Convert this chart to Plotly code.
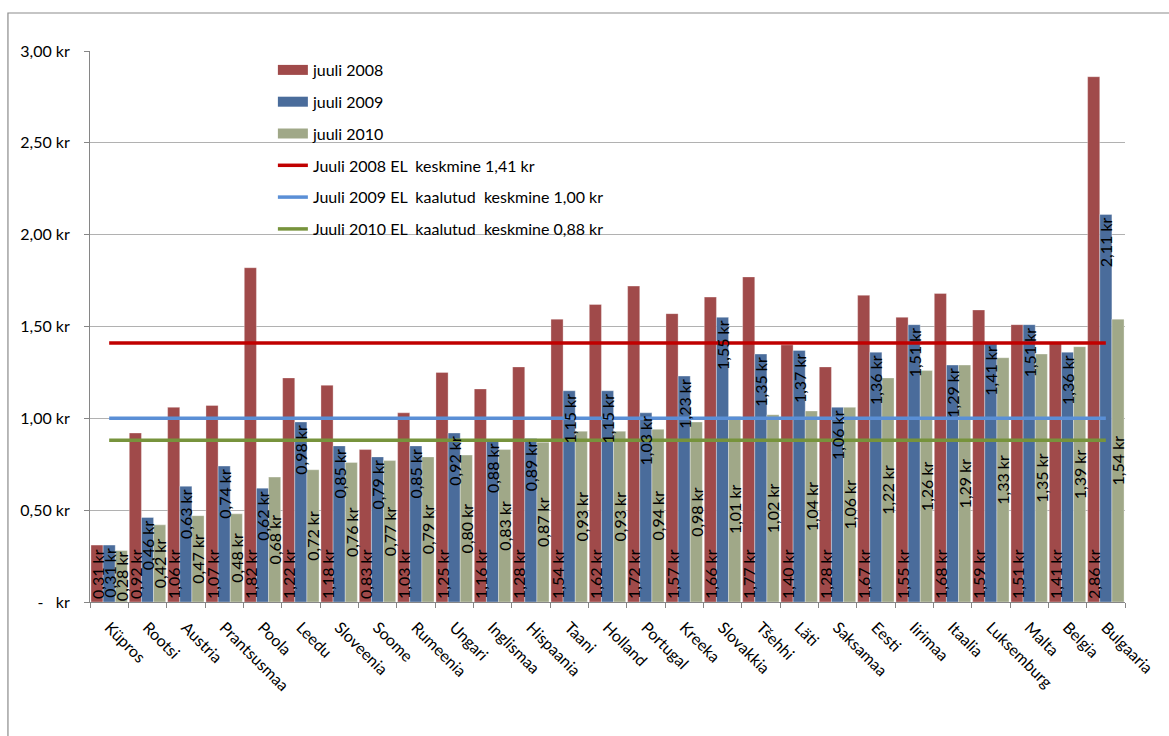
import plotly.graph_objects as go

countries = ["Küpros", "Rootsi", "Austria", "Prantsusmaa", "Poola", "Leedu", "Sloveenia",
             "Soome", "Rumeenia", "Ungari", "Inglismaa", "Hispaania", "Taani", "Holland",
             "Portugal", "Kreeka", "Slovakkia", "Tšehhi", "Läti", "Saksamaa", "Eesti",
             "Iirimaa", "Itaalia", "Luksemburg", "Malta", "Belgia", "Bulgaaria"]

juuli_2008 = [0.31, 0.92, 1.06, 1.07, 1.82, 1.22, 1.18, 0.83, 1.03, 1.25, 1.16, 1.28, 1.54, 1.62,
              1.72, 1.57, 1.66, 1.77, 1.40, 1.28, 1.67, 1.55, 1.68, 1.59, 1.51, 1.41, 2.86]
juuli_2009 = [0.31, 0.46, 0.63, 0.74, 0.62, 0.98, 0.85, 0.79, 0.85, 0.92, 0.88, 0.89, 1.15, 1.15,
              1.03, 1.23, 1.55, 1.35, 1.37, 1.06, 1.36, 1.51, 1.29, 1.41, 1.51, 1.36, 2.11]
juuli_2010 = [0.28, 0.42, 0.47, 0.48, 0.68, 0.72, 0.76, 0.77, 0.79, 0.80, 0.83, 0.87, 0.93, 0.93,
              0.94, 0.98, 1.01, 1.02, 1.04, 1.06, 1.22, 1.26, 1.29, 1.33, 1.35, 1.39, 1.54]

avg_2008 = 1.41
avg_2009 = 1.00
avg_2010 = 0.88

bar_names = ["juuli 2008", "juuli 2009", "juuli 2010"]
line_names = ["Juuli 2008 EL  keskmine 1,41 kr",
              "Juuli 2009 EL  kaalutud  keskmine 1,00 kr",
              "Juuli 2010 EL  kaalutud  keskmine 0,88 kr"]

y_ticks = [0, 0.5, 1.0, 1.5, 2.0, 2.5, 3.0]
y_ticktext = ["-\u00a0\u00a0\u00a0kr", "0,50 kr", "1,00 kr", "1,50 kr", "2,00 kr", "2,50 kr", "3,00 kr"]

FONT = "Lato"
FS = 16
bar_colors = ["#A04A4A", "#4A6C9B", "#A0A888"]
line_colors = ["#C00000", "#5A8FD6", "#77933C"]


def fmt(v):
    return f"{v:.2f}".replace(".", ",") + " kr"


fig = go.Figure()

series = [juuli_2008, juuli_2009, juuli_2010]
anchors = ["start", "end", "middle"]

# 1) the bars themselves (base subplot)
for vals, name, col in zip(series, bar_names, bar_colors):
    fig.add_trace(go.Bar(
        x=countries, y=vals, name=name, showlegend=False,
        marker=dict(color=col, line=dict(color="rgba(255,255,255,0.55)", width=0.6)),
        xaxis="x", yaxis="y",
    ))

# legend proxies for the bar series (wide swatches like the original)
for i, (name, col) in enumerate(zip(bar_names, bar_colors)):
    fig.add_trace(go.Scatter(
        x=[None], y=[None], mode="lines", name=name,
        line=dict(color=col, width=10), legendgroup=f"g{i}", showlegend=True,
        xaxis="x2", yaxis="y2",
    ))

# 2) EU average lines (overlay above the bars)
for i, (avg, name, col) in enumerate(zip([avg_2008, avg_2009, avg_2010], line_names, line_colors)):
    fig.add_trace(go.Scatter(
        x=countries, y=[avg] * len(countries), mode="lines", name=name,
        line=dict(color=col, width=3.5), legendgroup=f"l{i}",
        xaxis="x2", yaxis="y2",
    ))

# 3) data labels on top of everything (same bars, transparent)
for vals, name, anc in zip(series, bar_names, anchors):
    fig.add_trace(go.Bar(
        x=countries, y=vals, name=name, showlegend=False,
        marker=dict(color="rgba(0,0,0,0)", line=dict(width=0)),
        text=[fmt(v) for v in vals],
        textposition="inside", insidetextanchor=anc, textangle=-90,
        constraintext="none",
        insidetextfont=dict(family=FONT, size=FS, color="black"),
        cliponaxis=False,
        xaxis="x3", yaxis="y3",
    ))

W, H = 1169, 736
L, R, T, B = 90, 32, 51, 134
pw = W - L - R
ph = H - T - B

xr = [-0.5, len(countries) - 0.5]
yr = [0, 3.0]
hidden_x = dict(type="category", range=xr, visible=False, showgrid=False, zeroline=False,
                categoryorder="array", categoryarray=countries)
hidden_y = dict(range=yr, visible=False, showgrid=False, zeroline=False)

fig.update_layout(
    width=W, height=H,
    margin=dict(l=L, r=R, t=T, b=B, pad=0),
    paper_bgcolor="white", plot_bgcolor="white",
    barmode="group", bargap=0.05, bargroupgap=0.0,
    font=dict(family=FONT, size=FS, color="black"),
    showlegend=True,
    legend=dict(
        x=(275 - L) / pw, y=1 - 2 / ph, xanchor="left", yanchor="top",
        bgcolor="rgba(0,0,0,0)", borderwidth=0,
        font=dict(family=FONT, size=FS, color="black"),
        tracegroupgap=8, itemwidth=30,
    ),
    xaxis=dict(
        type="category", tickangle=45, tickson="boundaries",
        ticks="outside", ticklen=5, tickcolor="#868686",
        showline=True, linecolor="#868686", linewidth=1,
        showgrid=False, tickfont=dict(family=FONT, size=FS, color="black"),
        ticklabelstandoff=9,
        range=xr, categoryorder="array", categoryarray=countries,
    ),
    yaxis=dict(
        range=yr, tickvals=y_ticks, ticktext=y_ticktext,
        ticks="outside", ticklen=5, tickcolor="#868686",
        showline=True, linecolor="#868686", linewidth=1,
        showgrid=True, gridcolor="rgba(100,100,100,0.5)", gridwidth=1,
        zeroline=False, layer="above traces",
        ticklabelstandoff=11,
        tickfont=dict(family=FONT, size=FS, color="black"),
    ),
    xaxis2=dict(overlaying="x", **hidden_x),
    yaxis2=dict(overlaying="y", anchor="x2", **hidden_y),
    xaxis3=dict(overlaying="x", **hidden_x),
    yaxis3=dict(overlaying="y", anchor="x3", **hidden_y),
    shapes=[dict(
        type="rect", xref="paper", yref="paper",
        x0=(7 - L) / pw, x1=(W + 20 - L) / pw,
        y0=-(H + 20 - T - ph) / ph, y1=(H - B - 13) / ph,
        line=dict(color="#8C8C8C", width=1.2), fillcolor="rgba(0,0,0,0)", layer="below",
    )],
)

fig.write_html("out.html", config={"displayModeBar": False},
               post_script="document.body.style.margin='0px';")
